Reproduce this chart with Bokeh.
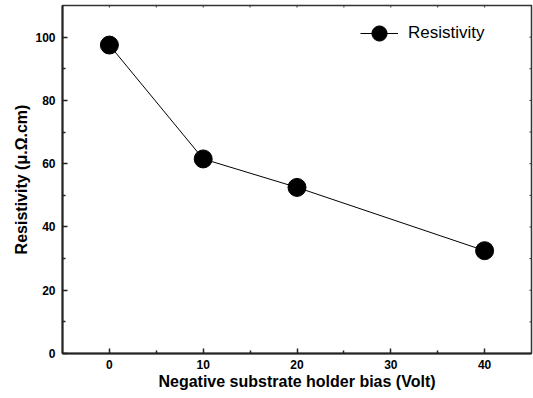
from bokeh.plotting import figure
from bokeh.models import FixedTicker, Legend, LegendItem, Range1d
from bokeh.embed import file_html
from bokeh.resources import INLINE
import math

bias = [0, 10, 20, 40]
resistivity = [97.5, 61.5, 52.5, 32.5]
x_ticks = [0, 10, 20, 30, 40]
x_minor = [5, 15, 25, 35]
y_ticks = [0, 20, 40, 60, 80, 100]
y_minor = [10, 30, 50, 70, 90]
x_lim = (-5, 45)
y_lim = (0, 110)

p = figure(width=533, height=398, output_backend="svg", toolbar_location=None,
           title=None, x_range=Range1d(*x_lim), y_range=Range1d(*y_lim),
           min_border_left=62, min_border_right=2, min_border_top=5, min_border_bottom=45)
p.background_fill_color = "white"
p.border_fill_color = "white"
p.grid.visible = False
p.outline_line_color = "#333333"
p.outline_line_width = 1.5

font = "Liberation Sans"
for ax, ticks, minor in ((p.xaxis, x_ticks, x_minor), (p.yaxis, y_ticks, y_minor)):
    ax.ticker = FixedTicker(ticks=ticks, minor_ticks=minor)
    ax.axis_line_width = 2
    ax.axis_line_color = "#222222"
    ax.major_tick_in = 5
    ax.major_tick_out = 0
    ax.minor_tick_in = 3
    ax.minor_tick_out = 0
    ax.major_tick_line_width = 1.5
    ax.minor_tick_line_width = 1.5
    ax.major_tick_line_color = "#222222"
    ax.minor_tick_line_color = "#222222"
    ax.major_label_text_font = font
    ax.major_label_text_font_style = "bold"
    ax.major_label_text_font_size = "12px"
    ax.major_label_text_color = "black"
    ax.axis_label_text_font = font
    ax.axis_label_text_font_style = "bold"
    ax.axis_label_text_font_size = "16px"
    ax.axis_label_text_color = "black"

p.xaxis.axis_label = "Negative substrate holder bias (Volt)"
p.yaxis.axis_label = "Resistivity (\u03bc.\u03a9.cm)"
p.xaxis.major_label_standoff = 6
p.xaxis.axis_label_standoff = 1
p.yaxis.major_label_standoff = 7
p.yaxis.axis_label_standoff = 2

# small mirrored tick marks on the top and right borders (clipped to the frame)
top_x = sorted(x_ticks + x_minor)
p.scatter(top_x, [y_lim[1]] * len(top_x), marker="dash", size=4, angle=math.pi / 2,
          line_color="#333333", line_width=1)
right_y = sorted(y_ticks + y_minor)
p.scatter([x_lim[1]] * len(right_y), right_y, marker="dash", size=4,
          line_color="#333333", line_width=1)

ln = p.line(bias, resistivity, line_color="black", line_width=1)
sc = p.scatter(bias, resistivity, size=18, fill_color="black", line_color="black")

legend = Legend(items=[LegendItem(label="Resistivity", renderers=[ln, sc])],
                location=(298, 300), padding=0, margin=0, spacing=0,
                glyph_width=38, glyph_height=40, label_height=40, label_standoff=10,
                label_text_font=font, label_text_font_size="17px",
                label_text_color="black",
                background_fill_alpha=0, border_line_alpha=0)
p.add_layout(legend)

open("out.html", "w").write(file_html(p, INLINE))
